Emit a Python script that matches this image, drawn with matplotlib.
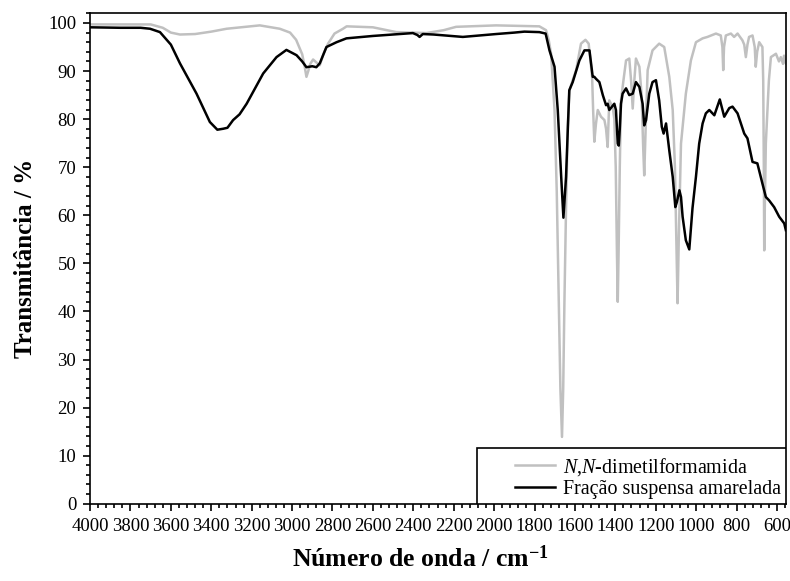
"""FTIR: N,N-dimetilformamida vs fração suspensa amarelada (transmitância)."""
import matplotlib
matplotlib.use("Agg")
import matplotlib.pyplot as plt
from matplotlib.patches import Rectangle
from matplotlib.ticker import MultipleLocator

plt.rcParams["font.family"] = ["Liberation Serif", "DejaVu Serif"]
plt.rcParams["mathtext.fontset"] = "custom"
plt.rcParams["mathtext.rm"] = "Liberation Serif"
plt.rcParams["mathtext.it"] = "Liberation Serif:italic"
plt.rcParams["mathtext.bf"] = "Liberation Serif:bold"

# DMF spectrum (grey)
dmf_wn = [4000, 3700, 3640, 3600, 3555, 3480, 3400, 3324, 3160, 3061, 3010, 2980,
          2950, 2938, 2929, 2920, 2910, 2896, 2880, 2863, 2845, 2822, 2790, 2748,
          2730, 2600, 2484, 2336, 2250, 2188, 1990, 1776, 1743, 1730, 1718, 1701,
          1690, 1680, 1672, 1664, 1658, 1652, 1644, 1636, 1627, 1611, 1594, 1570,
          1548, 1532, 1515, 1510, 1504, 1496, 1487, 1471, 1454, 1446, 1438, 1430,
          1413, 1405, 1398, 1392, 1388, 1384, 1378, 1372, 1360, 1347, 1331, 1322,
          1314, 1306, 1298, 1281, 1270, 1262, 1257, 1250, 1240, 1216, 1183, 1158,
          1133, 1116, 1105, 1098, 1092, 1086, 1080, 1075, 1067, 1051, 1026, 1001,
          968, 944, 902, 878, 870, 866, 862, 853, 828, 812, 795, 771, 762, 754,
          746, 738, 721, 710, 705, 698, 688, 672, 668, 665, 663, 660, 655, 647,
          640, 630, 605, 590, 581, 570, 565, 560, 556]
dmf_t = [99.7, 99.7, 99.0, 98.0, 97.6, 97.7, 98.2, 98.8, 99.5, 98.8, 98.0, 96.5,
         93.5, 91.0, 88.8, 90.0, 91.5, 92.4, 91.8, 91.2, 93.5, 95.7, 97.8, 98.8,
         99.3, 99.1, 98.1, 97.9, 98.5, 99.2, 99.5, 99.3, 98.5, 96.5, 93.6, 81.9,
         65.0, 42.0, 24.0, 13.9, 24.0, 42.0, 61.5, 78.0, 86.0, 88.1, 90.2, 95.7,
         96.5, 95.7, 88.8, 82.0, 75.3, 79.0, 81.9, 80.5, 79.8, 78.0, 74.2, 83.9,
         82.5, 80.0, 70.0, 52.0, 42.0, 52.0, 70.0, 83.9, 88.0, 92.2, 92.6, 88.0,
         82.2, 88.0, 92.6, 90.9, 85.0, 74.0, 68.3, 78.0, 90.2, 94.3, 95.7, 95.0,
         88.8, 81.9, 70.0, 55.0, 41.7, 55.0, 66.0, 74.9, 78.4, 85.3, 92.2, 96.0,
         96.8, 97.1, 97.8, 97.4, 95.0, 90.2, 95.0, 97.4, 97.8, 97.1, 97.8, 96.4,
         95.5, 92.9, 95.5, 97.1, 97.4, 95.0, 90.9, 94.0, 96.0, 95.0, 88.0, 70.0,
         52.7, 62.0, 75.0, 81.9, 88.0, 92.9, 93.6, 92.0, 92.9, 91.5, 93.2, 92.0,
         91.6]

# yellow suspended fraction (black)
frac_wn = [4000, 3850, 3750, 3703, 3654, 3600, 3555, 3473, 3407, 3370, 3341, 3320,
           3292, 3260, 3225, 3143, 3077, 3028, 2978, 2950, 2929, 2900, 2880, 2863,
           2830, 2780, 2731, 2600, 2402, 2380, 2369, 2353, 2300, 2155, 2100, 1990,
           1900, 1850, 1776, 1745, 1726, 1701, 1685, 1668, 1657, 1644, 1628, 1611,
           1578, 1553, 1528, 1512, 1504, 1496, 1479, 1462, 1446, 1438, 1430, 1405,
           1397, 1388, 1383, 1378, 1372, 1364, 1347, 1331, 1314, 1298, 1281, 1265,
           1257, 1248, 1232, 1216, 1199, 1183, 1170, 1161, 1149, 1133, 1116, 1103,
           1095, 1083, 1075, 1067, 1051, 1034, 1018, 1001, 985, 968, 952, 935, 910,
           883, 861, 836, 820, 795, 762, 746, 721, 697, 672, 655, 639, 614, 589,
           564, 556]
frac_t = [99.1, 99.0, 99.0, 98.8, 98.1, 95.5, 91.6, 85.3, 79.4, 77.8, 78.0, 78.2,
          79.8, 81.0, 83.2, 89.5, 92.9, 94.4, 93.3, 92.0, 90.8, 91.0, 90.8, 91.6,
          95.0, 96.0, 96.8, 97.3, 97.9, 97.5, 97.1, 97.7, 97.6, 97.1, 97.3, 97.7,
          98.0, 98.2, 98.1, 97.8, 94.3, 90.9, 81.9, 68.0, 59.5, 68.0, 86.0, 87.7,
          92.2, 94.3, 94.3, 88.8, 88.8, 88.4, 87.7, 85.0, 82.9, 83.2, 81.9, 83.2,
          81.9, 74.9, 74.5, 78.0, 83.2, 85.3, 86.4, 85.0, 85.3, 87.7, 86.7, 83.2,
          78.7, 79.8, 85.3, 87.7, 88.1, 83.9, 78.4, 77.0, 79.1, 73.5, 68.0, 61.7,
          62.8, 65.2, 63.8, 59.7, 54.8, 52.9, 61.5, 68.0, 74.9, 79.1, 81.2, 81.9,
          80.8, 84.1, 80.5, 82.3, 82.6, 81.2, 77.0, 76.0, 71.1, 70.8, 66.6, 63.8,
          63.1, 61.7, 59.7, 58.3, 56.9]

fig = plt.figure(figsize=(7.9, 5.81), dpi=100)
ax = fig.add_axes([0.114, 0.133, 0.881, 0.844])

ax.plot(dmf_wn, dmf_t, color="#c0c0c0", lw=1.8, label=r"$N$,$N$-dimetilformamida")
ax.plot(frac_wn, frac_t, color="black", lw=1.8, label="Fração suspensa amarelada")

ax.set_xlim(4000, 555)
ax.set_ylim(0, 102)
ax.xaxis.set_major_locator(MultipleLocator(200))
ax.xaxis.set_minor_locator(MultipleLocator(40))
ax.yaxis.set_major_locator(MultipleLocator(10))
ax.yaxis.set_minor_locator(MultipleLocator(2))
ax.tick_params(which="both", direction="out", top=False, right=False, labelsize=13.5)
ax.tick_params(which="major", length=5, width=1.2, pad=5)
ax.tick_params(which="minor", length=3, width=1.2)
for s in ax.spines.values():
    s.set_linewidth(1.2)

ax.set_xlabel(r"Número de onda / cm$^{\mathbf{-1}}$", fontsize=18.5, fontweight="bold")
ax.xaxis.set_label_coords(0.474, -0.085)
ax.set_ylabel("Transmitância / %", fontsize=18, fontweight="bold", labelpad=8)

# legend: Origin-style box, wider than its contents on the left
leg = ax.legend(loc="lower right", fontsize=14.4, frameon=False,
                borderaxespad=0, handlelength=2.0,
                labelspacing=0.1, borderpad=0.25, handletextpad=0.4)
leg.set_zorder(5)
ax.add_patch(Rectangle((0.556, 0.0), 0.444, 0.114, transform=ax.transAxes,
                       facecolor="white", edgecolor="black", lw=1.2, zorder=4))

fig.savefig("out.png", dpi=100)
